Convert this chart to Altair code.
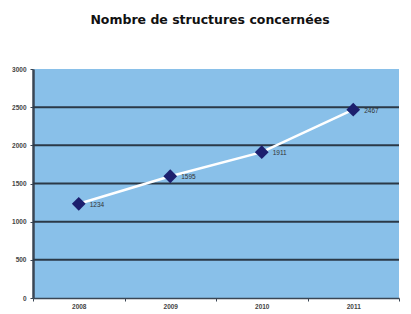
import altair as alt
import pandas as pd

years = ["2008", "2009", "2010", "2011"]
values = [1234, 1595, 1911, 2467]
labels = ["1234", "1595", "1911", "2467"]
grid_vals = [500, 1000, 1500, 2000, 2500]
y_ticks = [0, 500, 1000, 1500, 2000, 2500, 3000]

df = pd.DataFrame({"year": years, "value": values, "label": labels})
gdf = pd.DataFrame({"g": grid_vals})

yscale = alt.Scale(domain=[0, 3000])
yaxis = alt.Axis(title=None, values=y_ticks, format="d", labelFontSize=6.5,
                 labelColor="#444", grid=False, domainColor="#3a4654", domainWidth=2.5,
                 tickColor="#3a4654", tickSize=3, labelPadding=4,
                 labelFont="Liberation Sans", labelFontWeight="bold")
xaxis = alt.Axis(title=None, tickBand="extent", labelFontSize=6.5, labelColor="#444",
                 domainColor="#3a4654", domainWidth=1.5, tickColor="#3a4654",
                 tickSize=3, labelPadding=2, labelAngle=0, grid=False,
                 labelFont="Liberation Sans", labelFontWeight="bold")
xscale = alt.Scale(type="band", paddingInner=0, paddingOuter=0)

grid = alt.Chart(gdf).mark_rule(color="#2b3947", strokeWidth=2).encode(
    y=alt.Y("g:Q", scale=yscale, axis=yaxis)
)

line = alt.Chart(df).mark_line(color="white", strokeWidth=2.5).encode(
    x=alt.X("year:N", bandPosition=0.5, scale=xscale, axis=xaxis),
    y=alt.Y("value:Q", scale=yscale, axis=yaxis),
)

points = alt.Chart(df).mark_point(shape="diamond", filled=True, size=190,
                                  color="#1c1f6e", opacity=1).encode(
    x=alt.X("year:N", bandPosition=0.5, scale=xscale, axis=xaxis),
    y=alt.Y("value:Q", scale=yscale, axis=yaxis)
)

text = alt.Chart(df).mark_text(align="left", dx=11, dy=1, fontSize=6.5,
                               color="#333", font="Liberation Sans").encode(
    x=alt.X("year:N", bandPosition=0.5, scale=xscale, axis=xaxis),
    y=alt.Y("value:Q", scale=yscale, axis=yaxis), text="label:N"
)

chart = alt.layer(grid, line, points, text).properties(
    width=366, height=229,
    title=alt.TitleParams("Nombre de structures concernées", fontSize=12.5,
                          font="DejaVu Sans", fontWeight="bold", color="#111",
                          anchor="middle", offset=40, dx=-6),
    autosize=alt.AutoSizeParams(type="none"),
    padding={"left": 25, "top": 61, "right": 4, "bottom": 14},
    background="white",
).configure_view(fill="#89c0e9", stroke=None)

chart.save("out.html", embed_options={"renderer": "svg", "actions": False})
